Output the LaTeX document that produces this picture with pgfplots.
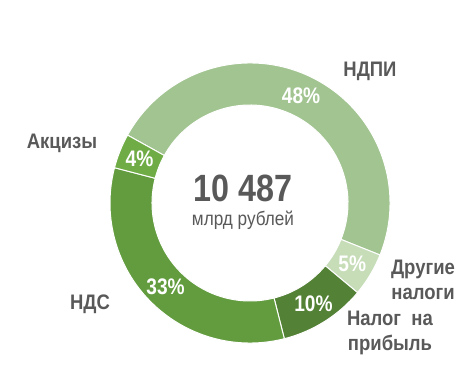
\documentclass[border=0pt]{standalone}
\usepackage{pgfplots}
\pgfplotsset{compat=1.18}
\usepackage{pgfplotstable}
\usepackage{fontspec}
\usetikzlibrary{calc}
\setmainfont{Liberation Sans}
\newfontfamily\labfont[FakeStretch=0.88]{Liberation Sans}
\newfontfamily\pctfont[FakeStretch=0.85]{Liberation Sans}
\newfontfamily\numfont[FakeStretch=0.85]{Liberation Sans}
\definecolor{cNDPI}{HTML}{A1C490}
\definecolor{cOther}{HTML}{C6DDB8}
\definecolor{cProfit}{HTML}{538135}
\definecolor{cNDS}{HTML}{629C3E}
\definecolor{cAkc}{HTML}{6FAC46}
\definecolor{txt}{HTML}{595959}
\pgfplotstableread{
value col
48 cNDPI
5 cOther
10 cProfit
33 cNDS
4 cAkc
}\shares
\begin{document}
\begin{tikzpicture}
\useasboundingbox (0,0) rectangle (470bp,378bp);
\begin{axis}[at={(0,0)}, anchor=south west, scale only axis,
  width=470bp, height=378bp, xmin=0, xmax=470, ymin=0, ymax=378,
  hide axis, clip=false]
\addplot[draw=none, forget plot] coordinates {(0,0)};
\gdef\astart{151}
\foreach \i in {0,...,4}{
  \pgfplotstablegetelem{\i}{value}\of\shares \let\v=\pgfplotsretval
  \pgfplotstablegetelem{\i}{col}\of\shares \let\c=\pgfplotsretval
  \pgfmathsetmacro\aend{\astart-3.6*\v}
  \pgfmathsetmacro\amid{(\astart+\aend)/2}
  \edef\tmp{\noexpand\fill[\c, draw=white, line width=1bp]
    (\noexpand$(axis cs:250,175)+(\astart:140bp)\noexpand$)
    arc[start angle=\astart, end angle=\aend, radius=140bp]
    -- (\noexpand$(axis cs:250,175)+(\aend:98bp)\noexpand$)
    arc[start angle=\aend, end angle=\astart, radius=98bp] -- cycle;
    \noexpand\node[text=white, font=\noexpand\pctfont\noexpand\bfseries\noexpand\fontsize{22.5bp}{25bp}\noexpand\selectfont]
    at (\noexpand$(axis cs:250,175)+(\amid:119bp)\noexpand$) {\v\noexpand\%};}
  \tmp
  \xdef\astart{\aend}
}
\node[text=txt, font=\numfont\bfseries\fontsize{38bp}{40bp}\selectfont] at (axis cs:243,190) {10 487};
\node[text=txt, font=\labfont\fontsize{19.5bp}{22bp}\selectfont] at (axis cs:243,158) {млрд рублей};
\node[text=txt, font=\labfont\bfseries\fontsize{21bp}{24bp}\selectfont] at (axis cs:370,307) {НДПИ};
\node[text=txt, font=\labfont\bfseries\fontsize{21bp}{24bp}\selectfont] at (axis cs:62,235) {Акцизы};
\node[text=txt, font=\labfont\bfseries\fontsize{21bp}{24bp}\selectfont] at (axis cs:90,74) {НДС};
\node[text=txt, align=center, font=\labfont\bfseries\fontsize{21bp}{25bp}\selectfont] at (axis cs:423,98) {Другие\\налоги};
\node[text=txt, align=center, font=\labfont\bfseries\fontsize{21bp}{25bp}\selectfont] at (axis cs:390,45) {Налог~ на\\прибыль};
\end{axis}
\end{tikzpicture}
\end{document}
